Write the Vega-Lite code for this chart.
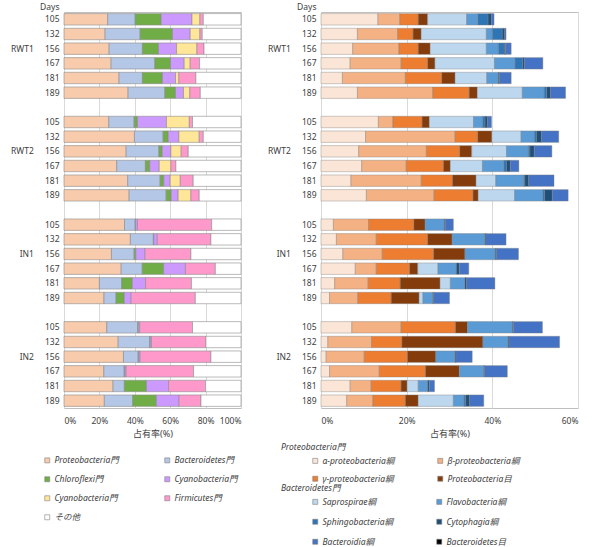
{
  "$schema": "https://vega.github.io/schema/vega-lite/v6.json",
  "padding": {"left": 10, "top": 1, "right": 0, "bottom": 0},
  "spacing": 25,
  "config": {
    "font": "Noto Sans, Noto Sans CJK JP",
    "view": {"stroke": "#bfbfbf", "strokeWidth": 1},
    "axis": {"labelFontSize": 8.5, "labelColor": "#404040", "titleFontSize": 9, "titleFontWeight": "normal", "titleColor": "#404040", "domain": false, "ticks": false, "gridColor": "#d9d9d9"},
    "legend": {"labelFontSize": 8.5, "labelColor": "#404040", "labelFontStyle": "italic", "symbolType": "square", "symbolSize": 25, "symbolStrokeColor": "#7f7f7f", "symbolStrokeWidth": 0.6, "titleFontSize": 8.5, "titleFontWeight": "normal", "titleFontStyle": "italic", "titleColor": "#404040", "rowPadding": 9, "labelOffset": 3, "padding": 0, "direction": "horizontal"}
  },
  "datasets": {
    "left": [
      {"row": "RWT1|105", "Proteobacteria門": 24.7, "Bacteroidetes門": 15.5, "Chloroflexi門": 14.7, "Cyanobacteria門 ": 17.4, "Cyanobacteria門": 4.5, "Firmicutes門": 1.9, "その他": 21.3},
      {"row": "RWT1|132", "Proteobacteria門": 23.2, "Bacteroidetes門": 19.8, "Chloroflexi門": 18.3, "Cyanobacteria門 ": 10.0, "Cyanobacteria門": 5.5, "Firmicutes門": 1.3, "その他": 21.9},
      {"row": "RWT1|156", "Proteobacteria門": 25.5, "Bacteroidetes門": 18.8, "Chloroflexi門": 9.1, "Cyanobacteria門 ": 10.2, "Cyanobacteria門": 11.5, "Firmicutes門": 4.0, "その他": 20.9},
      {"row": "RWT1|167", "Proteobacteria門": 26.6, "Bacteroidetes門": 24.7, "Chloroflexi門": 8.9, "Cyanobacteria門 ": 7.7, "Cyanobacteria門": 3.4, "Firmicutes門": 5.3, "その他": 23.4},
      {"row": "RWT1|181", "Proteobacteria門": 31.1, "Bacteroidetes門": 13.2, "Chloroflexi門": 11.3, "Cyanobacteria門 ": 7.4, "Cyanobacteria門": 1.9, "Firmicutes門": 9.6, "その他": 25.5},
      {"row": "RWT1|189", "Proteobacteria門": 36.2, "Bacteroidetes門": 20.8, "Chloroflexi門": 6.0, "Cyanobacteria門 ": 4.5, "Cyanobacteria門": 3.6, "Firmicutes門": 5.9, "その他": 23.0},
      {"row": "RWT2|105", "Proteobacteria門": 25.3, "Bacteroidetes門": 14.3, "Chloroflexi門": 1.9, "Cyanobacteria門 ": 16.4, "Cyanobacteria門": 12.9, "Firmicutes門": 1.8, "その他": 27.4},
      {"row": "RWT2|132", "Proteobacteria門": 39.8, "Bacteroidetes門": 16.2, "Chloroflexi門": 2.9, "Cyanobacteria門 ": 6.0, "Cyanobacteria門": 11.5, "Firmicutes門": 2.3, "その他": 21.3},
      {"row": "RWT2|156", "Proteobacteria門": 35.1, "Bacteroidetes門": 18.5, "Chloroflexi門": 1.9, "Cyanobacteria門 ": 4.9, "Cyanobacteria門": 5.8, "Firmicutes門": 4.0, "その他": 29.8},
      {"row": "RWT2|167", "Proteobacteria門": 29.8, "Bacteroidetes門": 16.2, "Chloroflexi門": 2.5, "Cyanobacteria門 ": 5.3, "Cyanobacteria門": 6.6, "Firmicutes門": 2.8, "その他": 36.8},
      {"row": "RWT2|181", "Proteobacteria門": 36.0, "Bacteroidetes門": 18.3, "Chloroflexi門": 2.1, "Cyanobacteria門 ": 3.6, "Cyanobacteria門": 5.7, "Firmicutes門": 7.3, "その他": 27.0},
      {"row": "RWT2|189", "Proteobacteria門": 36.8, "Bacteroidetes門": 20.9, "Chloroflexi門": 2.9, "Cyanobacteria門 ": 3.9, "Cyanobacteria門": 7.2, "Firmicutes門": 4.7, "その他": 23.6},
      {"row": "IN1|105", "Proteobacteria門": 34.2, "Bacteroidetes門": 6.0, "Chloroflexi門": 0.2, "Cyanobacteria門 ": 1.1, "Cyanobacteria門": 0, "Firmicutes門": 41.9, "その他": 16.6},
      {"row": "IN1|132", "Proteobacteria門": 37.5, "Bacteroidetes門": 13.0, "Chloroflexi門": 0.2, "Cyanobacteria門 ": 2.0, "Cyanobacteria門": 0, "Firmicutes門": 30.3, "その他": 17.0},
      {"row": "IN1|156", "Proteobacteria門": 26.8, "Bacteroidetes門": 12.8, "Chloroflexi門": 1.0, "Cyanobacteria門 ": 5.2, "Cyanobacteria門": 0, "Firmicutes門": 25.9, "その他": 28.3},
      {"row": "IN1|167", "Proteobacteria門": 32.3, "Bacteroidetes門": 11.9, "Chloroflexi門": 12.1, "Cyanobacteria門 ": 12.3, "Cyanobacteria門": 0, "Firmicutes門": 16.9, "その他": 14.5},
      {"row": "IN1|181", "Proteobacteria門": 20.0, "Bacteroidetes門": 12.6, "Chloroflexi門": 6.0, "Cyanobacteria門 ": 7.5, "Cyanobacteria門": 0, "Firmicutes門": 25.9, "その他": 28.0},
      {"row": "IN1|189", "Proteobacteria門": 22.6, "Bacteroidetes門": 6.8, "Chloroflexi門": 4.7, "Cyanobacteria門 ": 3.8, "Cyanobacteria門": 0, "Firmicutes門": 36.3, "その他": 25.8},
      {"row": "IN2|105", "Proteobacteria門": 24.2, "Bacteroidetes門": 17.5, "Chloroflexi門": 0.3, "Cyanobacteria門 ": 0.8, "Cyanobacteria門": 0, "Firmicutes門": 29.8, "その他": 27.4},
      {"row": "IN2|132", "Proteobacteria門": 30.6, "Bacteroidetes門": 17.9, "Chloroflexi門": 0.2, "Cyanobacteria門 ": 0.7, "Cyanobacteria門": 0, "Firmicutes門": 30.8, "その他": 19.8},
      {"row": "IN2|156", "Proteobacteria門": 33.6, "Bacteroidetes門": 8.3, "Chloroflexi門": 0.3, "Cyanobacteria門 ": 0.8, "Cyanobacteria門": 0, "Firmicutes門": 40.0, "その他": 17.0},
      {"row": "IN2|167", "Proteobacteria門": 22.5, "Bacteroidetes門": 11.5, "Chloroflexi門": 0.3, "Cyanobacteria門 ": 0.8, "Cyanobacteria門": 0, "Firmicutes門": 38.1, "その他": 26.8},
      {"row": "IN2|181", "Proteobacteria門": 27.7, "Bacteroidetes門": 6.4, "Chloroflexi門": 12.5, "Cyanobacteria門 ": 12.5, "Cyanobacteria門": 0, "Firmicutes門": 20.9, "その他": 20.0},
      {"row": "IN2|189", "Proteobacteria門": 22.8, "Bacteroidetes門": 16.0, "Chloroflexi門": 13.4, "Cyanobacteria門 ": 12.8, "Cyanobacteria門": 0, "Firmicutes門": 12.4, "その他": 22.6}
    ],
    "right": [
      {"row": "RWT1|105", "α-proteobacteria綱": 13.3, "β-proteobacteria綱": 5.1, "γ-proteobacteria綱": 4.3, "Proteobacteria目": 2.2, "Saprospirae綱": 9.1, "Flavobacteria綱": 2.6, "Sphingobacteria綱": 2.4, "Cytophagia綱": 0.8, "Bacteroidia綱": 0.6, "Bacteroidetes目": 0},
      {"row": "RWT1|132", "α-proteobacteria綱": 8.5, "β-proteobacteria綱": 9.4, "γ-proteobacteria綱": 3.6, "Proteobacteria目": 1.9, "Saprospirae綱": 15.2, "Flavobacteria綱": 1.4, "Sphingobacteria綱": 2.3, "Cytophagia綱": 0.6, "Bacteroidia綱": 0.3, "Bacteroidetes目": 0},
      {"row": "RWT1|156", "α-proteobacteria綱": 7.4, "β-proteobacteria綱": 10.8, "γ-proteobacteria綱": 4.5, "Proteobacteria目": 2.8, "Saprospirae綱": 13.1, "Flavobacteria綱": 2.8, "Sphingobacteria綱": 1.4, "Cytophagia綱": 0.3, "Bacteroidia綱": 1.3, "Bacteroidetes目": 0},
      {"row": "RWT1|167", "α-proteobacteria綱": 6.8, "β-proteobacteria綱": 11.9, "γ-proteobacteria綱": 6.2, "Proteobacteria目": 1.7, "Saprospirae綱": 13.9, "Flavobacteria綱": 4.8, "Sphingobacteria綱": 1.8, "Cytophagia綱": 0.4, "Bacteroidia綱": 4.3, "Bacteroidetes目": 0},
      {"row": "RWT1|181", "α-proteobacteria綱": 5.0, "β-proteobacteria綱": 14.7, "γ-proteobacteria綱": 8.5, "Proteobacteria目": 3.1, "Saprospirae綱": 7.4, "Flavobacteria綱": 2.7, "Sphingobacteria綱": 0, "Cytophagia綱": 0.3, "Bacteroidia綱": 2.7, "Bacteroidetes目": 0},
      {"row": "RWT1|189", "α-proteobacteria綱": 8.5, "β-proteobacteria綱": 17.6, "γ-proteobacteria綱": 8.5, "Proteobacteria目": 1.9, "Saprospirae綱": 10.5, "Flavobacteria綱": 5.1, "Sphingobacteria綱": 0.6, "Cytophagia綱": 0.9, "Bacteroidia綱": 3.5, "Bacteroidetes目": 0},
      {"row": "RWT2|105", "α-proteobacteria綱": 13.4, "β-proteobacteria綱": 3.4, "γ-proteobacteria綱": 6.8, "Proteobacteria目": 1.7, "Saprospirae綱": 10.3, "Flavobacteria綱": 2.1, "Sphingobacteria綱": 0.6, "Cytophagia綱": 0.6, "Bacteroidia綱": 0.9, "Bacteroidetes目": 0},
      {"row": "RWT2|132", "α-proteobacteria綱": 10.4, "β-proteobacteria綱": 20.9, "γ-proteobacteria綱": 5.3, "Proteobacteria目": 3.3, "Saprospirae綱": 6.8, "Flavobacteria綱": 3.1, "Sphingobacteria綱": 0.5, "Cytophagia綱": 1.2, "Bacteroidia綱": 4.0, "Bacteroidetes目": 0},
      {"row": "RWT2|156", "α-proteobacteria綱": 8.8, "β-proteobacteria綱": 15.8, "γ-proteobacteria綱": 7.8, "Proteobacteria目": 2.8, "Saprospirae綱": 8.1, "Flavobacteria綱": 5.1, "Sphingobacteria綱": 0.4, "Cytophagia綱": 1.0, "Bacteroidia綱": 4.1, "Bacteroidetes目": 0},
      {"row": "RWT2|167", "α-proteobacteria綱": 9.5, "β-proteobacteria綱": 10.4, "γ-proteobacteria綱": 8.7, "Proteobacteria目": 1.6, "Saprospirae綱": 7.5, "Flavobacteria綱": 5.0, "Sphingobacteria綱": 0.6, "Cytophagia綱": 0.9, "Bacteroidia綱": 2.0, "Bacteroidetes目": 0},
      {"row": "RWT2|181", "α-proteobacteria綱": 7.0, "β-proteobacteria綱": 16.4, "γ-proteobacteria綱": 7.3, "Proteobacteria目": 5.5, "Saprospirae綱": 4.6, "Flavobacteria綱": 6.5, "Sphingobacteria綱": 0.3, "Cytophagia綱": 0.9, "Bacteroidia綱": 5.9, "Bacteroidetes目": 0},
      {"row": "RWT2|189", "α-proteobacteria綱": 10.6, "β-proteobacteria綱": 15.8, "γ-proteobacteria綱": 9.1, "Proteobacteria目": 1.2, "Saprospirae綱": 8.5, "Flavobacteria綱": 6.6, "Sphingobacteria綱": 0.4, "Cytophagia綱": 1.8, "Bacteroidia綱": 3.7, "Bacteroidetes目": 0},
      {"row": "IN1|105", "α-proteobacteria綱": 2.9, "β-proteobacteria綱": 8.2, "γ-proteobacteria綱": 10.6, "Proteobacteria目": 2.6, "Saprospirae綱": 0, "Flavobacteria綱": 4.5, "Sphingobacteria綱": 0, "Cytophagia綱": 0.2, "Bacteroidia綱": 1.9, "Bacteroidetes目": 0},
      {"row": "IN1|132", "α-proteobacteria綱": 3.6, "β-proteobacteria綱": 9.3, "γ-proteobacteria綱": 12.0, "Proteobacteria目": 5.7, "Saprospirae綱": 0, "Flavobacteria綱": 7.7, "Sphingobacteria綱": 0, "Cytophagia綱": 0.2, "Bacteroidia綱": 4.7, "Bacteroidetes目": 0},
      {"row": "IN1|156", "α-proteobacteria綱": 5.1, "β-proteobacteria綱": 9.2, "γ-proteobacteria綱": 12.0, "Proteobacteria目": 7.3, "Saprospirae綱": 0, "Flavobacteria綱": 7.1, "Sphingobacteria綱": 0, "Cytophagia綱": 0.3, "Bacteroidia綱": 5.1, "Bacteroidetes目": 0},
      {"row": "IN1|167", "α-proteobacteria綱": 8.0, "β-proteobacteria綱": 4.9, "γ-proteobacteria綱": 7.8, "Proteobacteria目": 1.9, "Saprospirae綱": 4.7, "Flavobacteria綱": 4.3, "Sphingobacteria綱": 0, "Cytophagia綱": 0.7, "Bacteroidia綱": 2.2, "Bacteroidetes目": 0},
      {"row": "IN1|181", "α-proteobacteria綱": 3.2, "β-proteobacteria綱": 7.8, "γ-proteobacteria綱": 7.5, "Proteobacteria目": 9.3, "Saprospirae綱": 2.4, "Flavobacteria綱": 3.4, "Sphingobacteria綱": 0, "Cytophagia綱": 0.4, "Bacteroidia綱": 6.6, "Bacteroidetes目": 0},
      {"row": "IN1|189", "α-proteobacteria綱": 2.0, "β-proteobacteria綱": 6.6, "γ-proteobacteria綱": 7.8, "Proteobacteria目": 6.5, "Saprospirae綱": 0.9, "Flavobacteria綱": 2.3, "Sphingobacteria綱": 0, "Cytophagia綱": 0.2, "Bacteroidia綱": 3.7, "Bacteroidetes目": 0},
      {"row": "IN2|105", "α-proteobacteria綱": 7.2, "β-proteobacteria綱": 11.5, "γ-proteobacteria綱": 12.7, "Proteobacteria目": 2.8, "Saprospirae綱": 0, "Flavobacteria綱": 10.5, "Sphingobacteria綱": 0, "Cytophagia綱": 0.2, "Bacteroidia綱": 6.8, "Bacteroidetes目": 0},
      {"row": "IN2|132", "α-proteobacteria綱": 1.6, "β-proteobacteria綱": 10.2, "γ-proteobacteria綱": 7.1, "Proteobacteria目": 18.9, "Saprospirae綱": 0, "Flavobacteria綱": 5.9, "Sphingobacteria綱": 0, "Cytophagia綱": 0.2, "Bacteroidia綱": 11.8, "Bacteroidetes目": 0},
      {"row": "IN2|156", "α-proteobacteria綱": 1.2, "β-proteobacteria綱": 8.9, "γ-proteobacteria綱": 10.1, "Proteobacteria目": 6.6, "Saprospirae綱": 0, "Flavobacteria綱": 4.5, "Sphingobacteria綱": 0, "Cytophagia綱": 0.2, "Bacteroidia綱": 3.8, "Bacteroidetes目": 0},
      {"row": "IN2|167", "α-proteobacteria綱": 2.0, "β-proteobacteria綱": 11.6, "γ-proteobacteria綱": 10.8, "Proteobacteria目": 7.9, "Saprospirae綱": 0, "Flavobacteria綱": 5.7, "Sphingobacteria綱": 0, "Cytophagia綱": 0.2, "Bacteroidia綱": 5.3, "Bacteroidetes目": 0},
      {"row": "IN2|181", "α-proteobacteria綱": 6.8, "β-proteobacteria綱": 4.9, "γ-proteobacteria綱": 7.0, "Proteobacteria目": 1.4, "Saprospirae綱": 2.6, "Flavobacteria綱": 2.2, "Sphingobacteria綱": 0, "Cytophagia綱": 0.4, "Bacteroidia綱": 1.2, "Bacteroidetes目": 0},
      {"row": "IN2|189", "α-proteobacteria綱": 6.0, "β-proteobacteria綱": 6.1, "γ-proteobacteria綱": 7.6, "Proteobacteria目": 3.0, "Saprospirae綱": 8.2, "Flavobacteria綱": 2.5, "Sphingobacteria綱": 0.4, "Cytophagia綱": 0.9, "Bacteroidia綱": 3.3, "Bacteroidetes目": 0}
    ]
  },
  "hconcat": [
    {
      "width": 177,
      "height": 396,
      "data": {"name": "left"},
      "transform": [
        {"fold": ["Proteobacteria門", "Bacteroidetes門", "Chloroflexi門", "Cyanobacteria門 ", "Cyanobacteria門", "Firmicutes門", "その他"], "as": ["cat", "v"]},
        {"window": [{"op": "row_number", "as": "k"}], "groupby": ["row"]},
        {"filter": "datum.v > 0"}
      ],
      "mark": {"type": "bar", "stroke": "#8c8c8c", "strokeWidth": 0.6},
      "encoding": {
        "y": {
          "field": "row", "type": "nominal",
          "scale": {"domain": ["RWT1|105", "RWT1|132", "RWT1|156", "RWT1|167", "RWT1|181", "RWT1|189", "gap1", "RWT2|105", "RWT2|132", "RWT2|156", "RWT2|167", "RWT2|181", "RWT2|189", "gap2", "IN1|105", "IN1|132", "IN1|156", "IN1|167", "IN1|181", "IN1|189", "gap3", "IN2|105", "IN2|132", "IN2|156", "IN2|167", "IN2|181", "IN2|189"], "paddingInner": 0.22, "paddingOuter": 0.11},
          "axis": {"title": "Days", "titleAngle": 0, "titleAlign": "right", "titleBaseline": "bottom", "titleX": -5, "titleY": -1, "titleFontSize": 8.5, "labelPadding": 5, "grid": false,
            "labelExpr": "indexof(datum.value,'gap')==0 ? '' : (split(datum.value,'|')[1]=='156' ? split(datum.value,'|')[0] + '\u00a0\u00a0\u00a0\u00a0\u00a0' + split(datum.value,'|')[1] : split(datum.value,'|')[1])"}
        },
        "x": {"field": "v", "type": "quantitative", "stack": "zero", "scale": {"domain": [0, 100]},
          "axis": {"values": [0, 20, 40, 60, 80, 100], "labelExpr": "datum.value + '%'", "title": "占有率(%)", "grid": true, "labelPadding": 8, "titlePadding": 5}},
        "order": {"field": "k", "type": "quantitative"},
        "color": {
          "field": "cat", "type": "nominal",
          "scale": {"domain": ["Proteobacteria門", "Bacteroidetes門", "Chloroflexi門", "Cyanobacteria門 ", "Cyanobacteria門", "Firmicutes門", "その他"], "range": ["#f8cbad", "#b4c7e7", "#70ad47", "#cc99ff", "#ffe699", "#ff99cc", "#ffffff"]},
          "legend": {"orient": "none", "legendX": -21, "legendY": 444, "title": null, "columns": 2, "columnPadding": 44, "rowPadding": 10}
        }
      }
    },
    {
      "width": 257,
      "height": 396,
      "data": {"name": "right"},
      "transform": [
        {"fold": ["α-proteobacteria綱", "β-proteobacteria綱", "γ-proteobacteria綱", "Proteobacteria目", "Saprospirae綱", "Flavobacteria綱", "Sphingobacteria綱", "Cytophagia綱", "Bacteroidia綱", "Bacteroidetes目"], "as": ["cat", "v"]},
        {"window": [{"op": "row_number", "as": "k"}], "groupby": ["row"]},
        {"filter": "datum.v > 0"}
      ],
      "encoding": {
        "y": {
          "field": "row", "type": "nominal",
          "scale": {"domain": ["RWT1|105", "RWT1|132", "RWT1|156", "RWT1|167", "RWT1|181", "RWT1|189", "gap1", "RWT2|105", "RWT2|132", "RWT2|156", "RWT2|167", "RWT2|181", "RWT2|189", "gap2", "IN1|105", "IN1|132", "IN1|156", "IN1|167", "IN1|181", "IN1|189", "gap3", "IN2|105", "IN2|132", "IN2|156", "IN2|167", "IN2|181", "IN2|189"], "paddingInner": 0.22, "paddingOuter": 0.11},
          "axis": {"title": "Days", "titleAngle": 0, "titleAlign": "right", "titleBaseline": "bottom", "titleX": -5, "titleY": -1, "titleFontSize": 8.5, "labelPadding": 5, "grid": false,
            "labelExpr": "indexof(datum.value,'gap')==0 ? '' : (split(datum.value,'|')[1]=='156' ? split(datum.value,'|')[0] + '\u00a0\u00a0\u00a0\u00a0\u00a0' + split(datum.value,'|')[1] : split(datum.value,'|')[1])"}
        },
        "x": {"field": "v", "type": "quantitative", "stack": "zero", "scale": {"domain": [0, 60]},
          "axis": {"values": [0, 20, 40, 60], "labelExpr": "datum.value + '%'", "title": "占有率(%)", "grid": true, "labelPadding": 8, "titlePadding": 5}},
        "order": {"field": "k", "type": "quantitative"}
      },
      "layer": [
        {
          "mark": {"type": "bar", "stroke": "#7f7f7f", "strokeWidth": 0.5, "strokeOpacity": 0.8},
          "encoding": {
            "color": {
              "field": "cat", "type": "nominal",
              "scale": {"domain": ["α-proteobacteria綱", "β-proteobacteria綱", "γ-proteobacteria綱", "Proteobacteria目", "Saprospirae綱", "Flavobacteria綱", "Sphingobacteria綱", "Cytophagia綱", "Bacteroidia綱", "Bacteroidetes目"], "range": ["#fbe5d6", "#f4b183", "#ed7d31", "#843c0c", "#bdd7ee", "#5b9bd5", "#2e75b6", "#1f4e79", "#4472c4", "#000000"]},
              "legend": null
            }
          }
        },
        {
          "transform": [{"filter": {"field": "cat", "oneOf": ["α-proteobacteria綱", "β-proteobacteria綱", "γ-proteobacteria綱", "Proteobacteria目"]}}],
          "mark": {"type": "bar", "opacity": 0},
          "encoding": {
            "color": {
              "field": "cat", "type": "nominal",
              "scale": {"domain": ["α-proteobacteria綱", "β-proteobacteria綱", "γ-proteobacteria綱", "Proteobacteria目"], "range": ["#fbe5d6", "#f4b183", "#ed7d31", "#843c0c"]},
              "legend": {"orient": "none", "legendX": -40, "legendY": 431, "title": "Proteobacteria門", "titlePadding": 5, "columns": 2, "columnPadding": 11, "symbolOffset": 30, "labelOffset": 3, "symbolOpacity": 1}
            }
          }
        },
        {
          "transform": [{"filter": {"field": "cat", "oneOf": ["Saprospirae綱", "Flavobacteria綱", "Sphingobacteria綱", "Cytophagia綱", "Bacteroidia綱", "Bacteroidetes目"]}}],
          "mark": {"type": "bar", "opacity": 0},
          "encoding": {
            "color": {
              "field": "cat", "type": "nominal",
              "scale": {"domain": ["Saprospirae綱", "Flavobacteria綱", "Sphingobacteria綱", "Cytophagia綱", "Bacteroidia綱", "Bacteroidetes目"], "range": ["#bdd7ee", "#5b9bd5", "#2e75b6", "#1f4e79", "#4472c4", "#000000"]},
              "legend": {"orient": "none", "legendX": -40, "legendY": 472, "title": "Bacteroidetes門", "titlePadding": 5, "columns": 2, "columnPadding": 11, "rowPadding": 11, "symbolOffset": 30, "labelOffset": 3, "symbolOpacity": 1}
            }
          }
        }
      ],
      "resolve": {"scale": {"color": "independent"}}
    }
  ]
}
